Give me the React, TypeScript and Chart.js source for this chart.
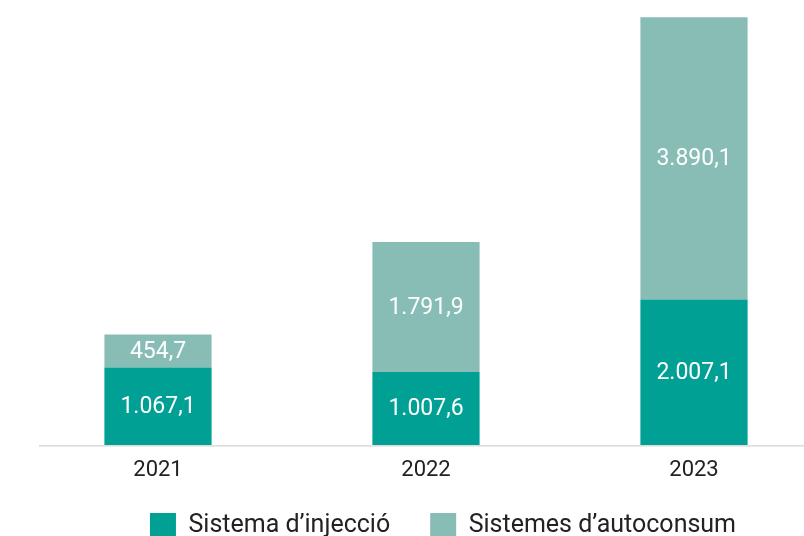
import React, { useEffect, useRef } from "react";
import { Chart, registerables } from "chart.js";

Chart.register(...registerables);

const categories = ["2021", "2022", "2023"];
const seriesNames = ["Sistema d\u2019injecció", "Sistemes d\u2019autoconsum"];
const injeccio = [1067.1, 1007.6, 2007.1];
const autoconsum = [454.7, 1791.9, 3890.1];

const DARK = "rgb(0,160,148)";
const LIGHT = "rgb(136,189,182)";
const FONT = "Roboto";
const WEIGHT = 400;

function fmt(v: number): string {
  const [i, d] = v.toFixed(1).split(".");
  return i.replace(/\B(?=(\d{3})+(?!\d))/g, ".") + "," + d;
}

const baselinePlugin = {
  id: "baseline",
  beforeDatasetsDraw(chart: any) {
    const { ctx, chartArea } = chart;
    ctx.save();
    ctx.fillStyle = "#dcdcdc";
    ctx.fillRect(39, chartArea.bottom, chartArea.right - 39, 1.6);
    ctx.restore();
  },
};

const layoutTweak = {
  id: "layoutTweak",
  afterLayout(chart: any) {
    const lg = chart.legend;
    if (lg) {
      lg.left += 17;
      lg.right += 17;
    }
    const x = chart.scales.x;
    if (x) {
      x.bottom = x.top + 50;
    }
  },
};

const valueLabels = {
  id: "valueLabels",
  afterDatasetsDraw(chart: any) {
    const { ctx } = chart;
    ctx.save();
    ctx.fillStyle = "#ffffff";
    ctx.font = `${WEIGHT} 23px ${FONT}`;
    ctx.textAlign = "center";
    ctx.textBaseline = "middle";
    chart.data.datasets.forEach((ds: any, di: number) => {
      const meta = chart.getDatasetMeta(di);
      meta.data.forEach((el: any, i: number) => {
        const v = ds.data[i];
        const yMid = (el.y + el.base) / 2;
        ctx.fillText(fmt(v), el.x, yMid + 1);
      });
    });
    ctx.restore();
  },
};

export default function App() {
  const ref = useRef<HTMLCanvasElement>(null);

  useEffect(() => {
    if (!ref.current) return;
    const chart = new Chart(ref.current, {
      type: "bar",
      data: {
        labels: categories,
        datasets: [
          {
            label: seriesNames[0],
            data: injeccio,
            backgroundColor: DARK,
            borderWidth: 0,
            categoryPercentage: 1,
            barPercentage: 0.4,
          },
          {
            label: seriesNames[1],
            data: autoconsum,
            backgroundColor: LIGHT,
            borderWidth: 0,
            categoryPercentage: 1,
            barPercentage: 0.4,
          },
        ],
      },
      options: {
        responsive: false,
        animation: false,
        layout: { padding: { left: 24, right: 69, top: 17, bottom: 0 } },
        plugins: {
          tooltip: { enabled: false },
          legend: {
            position: "bottom",
            labels: {
              boxWidth: 26,
              boxHeight: 26,
              padding: 40,
              color: "#222",
              font: { family: FONT, size: 25, weight: WEIGHT as any },
            },
          },
        },
        scales: {
          x: {
            stacked: true,
            grid: { display: false, drawTicks: false },
            border: { display: false },
            ticks: {
              color: "#222",
              font: { family: FONT, size: 22, weight: WEIGHT as any },
              padding: 12,
            },
            afterFit(scale: any) {
              scale.height = 28;
            },
          },
          y: {
            stacked: true,
            display: false,
            min: 0,
            max: 5900,
          },
        },
      },
      plugins: [baselinePlugin, layoutTweak, valueLabels],
    });
    return () => chart.destroy();
  }, []);

  return (
    <div
      style={{
        position: "fixed",
        left: 0,
        top: 0,
        width: 804,
        height: 536,
        overflow: "hidden",
        background: "#fff",
      }}
    >
      <canvas
        ref={ref}
        width={897}
        height={549}
        style={{ display: "block", width: 897, height: 549 }}
      />
    </div>
  );
}
